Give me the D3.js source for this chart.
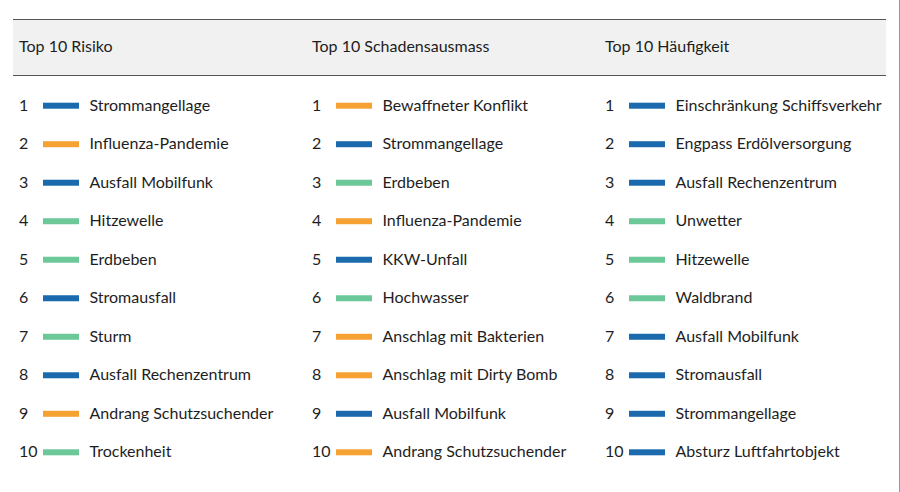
<!DOCTYPE html>
<html><head><meta charset="utf-8">
<script src="https://cdn.jsdelivr.net/npm/d3@7"></script>
<style>
html,body{margin:0;padding:0;background:#fff;}
svg{display:block;}
text{font-family:Lato,"Noto Sans",sans-serif;fill:#1e1e1e;}
</style></head>
<body><svg id="c" width="900" height="492"></svg>
<script>
const titles = ["Top 10 Risiko", "Top 10 Schadensausmass", "Top 10 Häufigkeit"];
const ranks = [1,2,3,4,5,6,7,8,9,10];
const risikoLabels = ["Strommangellage","Influenza-Pandemie","Ausfall Mobilfunk","Hitzewelle","Erdbeben","Stromausfall","Sturm","Ausfall Rechenzentrum","Andrang Schutzsuchender","Trockenheit"];
const risikoTypes = ["Technik","Gesellschaft","Technik","Natur","Natur","Technik","Natur","Technik","Gesellschaft","Natur"];
const schadenLabels = ["Bewaffneter Konflikt","Strommangellage","Erdbeben","Influenza-Pandemie","KKW-Unfall","Hochwasser","Anschlag mit Bakterien","Anschlag mit Dirty Bomb","Ausfall Mobilfunk","Andrang Schutzsuchender"];
const schadenTypes = ["Gesellschaft","Technik","Natur","Gesellschaft","Technik","Natur","Gesellschaft","Gesellschaft","Technik","Gesellschaft"];
const haeufigLabels = ["Einschränkung Schiffsverkehr","Engpass Erdölversorgung","Ausfall Rechenzentrum","Unwetter","Hitzewelle","Waldbrand","Ausfall Mobilfunk","Stromausfall","Strommangellage","Absturz Luftfahrtobjekt"];
const haeufigTypes = ["Technik","Technik","Technik","Natur","Natur","Natur","Technik","Technik","Technik","Technik"];
const typeNames = ["Technik","Gesellschaft","Natur"];
const typeColors = ["#1b6aae","#f6a233","#6cc799"];

const columns = [
  {title: titles[0], labels: risikoLabels, types: risikoTypes},
  {title: titles[1], labels: schadenLabels, types: schadenTypes},
  {title: titles[2], labels: haeufigLabels, types: haeufigTypes}
];

const svg = d3.select("#c");
const color = d3.scaleOrdinal().domain(typeNames).range(typeColors);
const x = d3.scalePoint().domain(titles).range([19, 605]);
const y = d3.scalePoint().domain(ranks).range([105.2, 451.8]);

// header band
svg.append("rect").attr("x",13).attr("y",19).attr("width",873).attr("height",56).attr("fill","#f1f1f1");
svg.append("line").attr("x1",13).attr("x2",886).attr("y1",19.5).attr("y2",19.5).attr("stroke","#555").attr("stroke-width",1);
svg.append("line").attr("x1",13).attr("x2",886).attr("y1",75.5).attr("y2",75.5).attr("stroke","#555").attr("stroke-width",1);
// right border
svg.append("line").attr("x1",899.5).attr("x2",899.5).attr("y1",0).attr("y2",492).attr("stroke","#999").attr("stroke-width",1);

const col = svg.selectAll("g.col").data(columns).join("g").attr("class","col")
  .attr("transform", d => `translate(${x(d.title)},0)`);

col.append("text").attr("x",0).attr("y",46).attr("dy","0.35em")
  .attr("font-size",16).text(d => d.title);

const row = col.selectAll("g.row").data(d => ranks.map((r,i) => ({rank:r, label:d.labels[i], type:d.types[i]})))
  .join("g").attr("class","row").attr("transform", d => `translate(0,${y(d.rank)})`);

row.append("text").attr("x",0).attr("dy","0.35em").attr("font-size",16).text(d => d.rank);
row.append("rect").attr("x",24).attr("y",-2.5).attr("width",36).attr("height",6).attr("fill", d => color(d.type));
row.append("text").attr("x",70.5).attr("dy","0.35em").attr("font-size",16).text(d => d.label);
</script></body></html>
